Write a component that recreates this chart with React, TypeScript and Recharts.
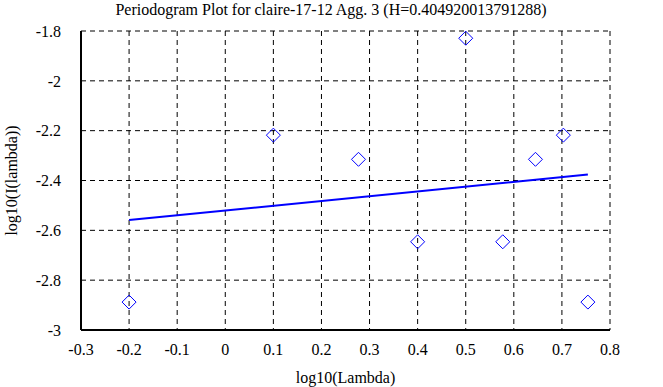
import { ScatterChart, Scatter, XAxis, YAxis, CartesianGrid, Label } from 'recharts'

const logLambda = [-0.2, 0.1, 0.277, 0.4, 0.5, 0.577, 0.645, 0.703, 0.754]
const logI = [-2.888, -2.218, -2.315, -2.646, -1.829, -2.646, -2.315, -2.218, -2.888]
const fitX = [-0.2, 0.754]
const fitY = [-2.559, -2.376]
const xTicks = [-0.3, -0.2, -0.1, 0, 0.1, 0.2, 0.3, 0.4, 0.5, 0.6, 0.7, 0.8]
const yTicks = [-3, -2.8, -2.6, -2.4, -2.2, -2, -1.8]
const title = 'Periodogram Plot for claire-17-12 Agg. 3 (H=0.404920013791288)'

const points = logLambda.map((x, i) => ({ x, y: logI[i] }))
const fit = fitX.map((x, i) => ({ x, y: fitY[i] }))

const font = 'Liberation Serif'
const textStyle = { fill: '#000', fontSize: 16, fontFamily: font }

// every text in the chart is 16px serif
const css = `
#periodogram svg text, #periodogram svg tspan {
  font-family: 'Liberation Serif', serif !important;
  font-size: 16px !important;
}
`

const Diamond = (props: any) => {
  const { cx, cy } = props
  const r = 7
  return (
    <path
      d={`M${cx},${cy - r}L${cx + r},${cy}L${cx},${cy + r}L${cx - r},${cy}Z`}
      fill="none"
      stroke="#0000ff"
      strokeWidth={1}
    />
  )
}

const fmt = (v: number) => String(Math.round(v * 10) / 10)

const App = () => {
  return (
    <div id="periodogram" style={{ position: 'absolute', top: 0, left: 0, width: 663, height: 387, background: '#fff', fontFamily: font }}>
      <style>{css}</style>
      <ScatterChart width={663} height={387} margin={{ top: 31, right: 53, bottom: 0, left: 0 }} style={{ fontFamily: font }}>
        <text x={331} y={15} textAnchor="middle" style={textStyle}>
          {title}
        </text>
        <CartesianGrid stroke="#000" strokeDasharray="5 4" strokeWidth={1} xAxisId="b" yAxisId="l" />
        <XAxis
          xAxisId="b"
          type="number"
          dataKey="x"
          domain={[-0.3, 0.8]}
          ticks={xTicks}
          tickFormatter={fmt}
          axisLine={{ stroke: '#000', strokeWidth: 2 }}
          tickLine={false}
          tick={{ fill: '#000', fontSize: 16, fontFamily: font }}
          tickMargin={8}
          height={57}
        >
          <Label value="log10(Lambda)" position="insideBottom" offset={4} style={textStyle} />
        </XAxis>
        <XAxis
          xAxisId="t"
          orientation="top"
          type="number"
          dataKey="x"
          domain={[-0.3, 0.8]}
          ticks={xTicks}
          mirror
          tick={false}
          axisLine={{ stroke: '#000', strokeWidth: 2 }}
          height={0}
        />
        <YAxis
          yAxisId="l"
          type="number"
          dataKey="y"
          domain={[-3, -1.8]}
          ticks={yTicks}
          tickFormatter={fmt}
          axisLine={{ stroke: '#000', strokeWidth: 2 }}
          tickLine={false}
          tick={{ fill: '#000', fontSize: 16, fontFamily: font }}
          tickMargin={14}
          width={81}
        >
          <Label value="log10(I(lambda))" angle={-90} position="insideLeft" offset={11} style={{ ...textStyle, textAnchor: 'middle' }} />
        </YAxis>
        <YAxis
          yAxisId="r"
          orientation="right"
          type="number"
          dataKey="y"
          domain={[-3, -1.8]}
          ticks={yTicks}
          mirror
          tick={false}
          axisLine={{ stroke: '#000', strokeWidth: 2 }}
          width={0}
        />
        <Scatter
          xAxisId="b"
          yAxisId="l"
          data={fit}
          line={{ stroke: '#0000ff', strokeWidth: 2 }}
          shape={() => <g />}
          isAnimationActive={false}
        />
        <Scatter xAxisId="b" yAxisId="l" data={points} shape={Diamond} isAnimationActive={false} />
      </ScatterChart>
    </div>
  )
}

export default App
